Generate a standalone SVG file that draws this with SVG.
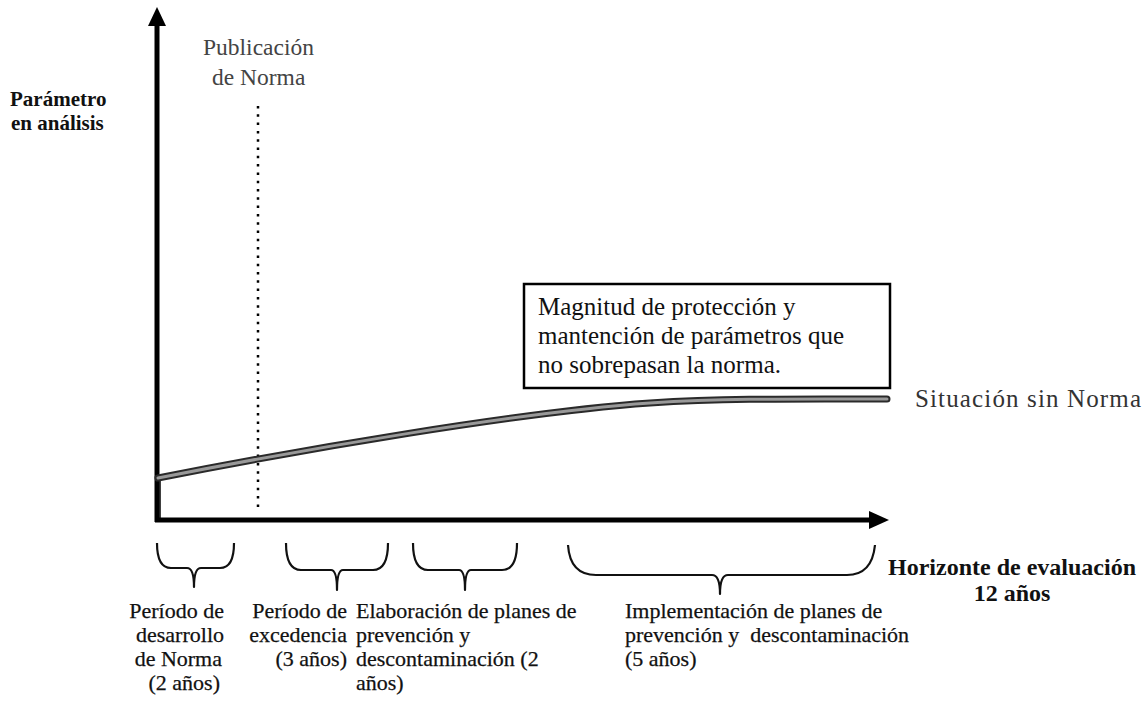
<svg xmlns="http://www.w3.org/2000/svg" width="1146" height="704" viewBox="0 0 1146 704">
<style>
text{font-family:"Liberation Serif","Times New Roman",serif;fill:#111}
.b{font-weight:bold}
.lbl{font-size:22px;stroke:#111;stroke-width:0.25}
.brace{fill:none;stroke:#111;stroke-width:2.2;stroke-linejoin:round}
</style>
<rect width="1146" height="704" fill="#fff"/>
<g id="axis-labels">
<text class="b" x="10" y="106" font-size="21">Parámetro</text>
<text class="b" x="11" y="130" font-size="21">en análisis</text>
</g>
<g id="publicacion">
<text x="203" y="55" font-size="23.5" style="fill:#444">Publicación</text>
<text x="212" y="85" font-size="23.5" style="fill:#444">de Norma</text>
</g>
<g id="connectors">
<line x1="157" y1="522" x2="157" y2="22" stroke="#000" stroke-width="5"/>
<polygon points="157,7 148,26 166,26" fill="#000"/>
<line x1="155" y1="520" x2="871" y2="520" stroke="#000" stroke-width="5"/>
<polygon points="889,520 869,511 869,529" fill="#000"/>
<line x1="258" y1="106" x2="258" y2="512" stroke="#000" stroke-width="2.5" stroke-dasharray="2.5 5.8"/>
<line x1="160" y1="478" x2="160" y2="518" stroke="#000" stroke-width="1.5"/>
</g>
<g id="curve">
<path d="M158,478 C300,450 520,412 650,403 C730,398 800,399 887,399" fill="none" stroke="#2a2a2a" stroke-width="7" stroke-linecap="round"/>
<path d="M158,478 C300,450 520,412 650,403 C730,398 800,399 887,399" fill="none" stroke="#999" stroke-width="3" stroke-linecap="round"/>
</g>
<g id="magnitud-box">
<rect x="524" y="284" width="366" height="104" fill="#fff" stroke="#000" stroke-width="2.5"/>
<text x="538" y="315" font-size="25">Magnitud de protección y</text>
<text x="538" y="344" font-size="25">mantención de parámetros que</text>
<text x="538" y="373" font-size="25">no sobrepasan la norma.</text>
</g>
<g id="situacion">
<text x="915" y="407" font-size="25" textLength="226" style="fill:#333">Situación sin Norma</text>
</g>
<g id="brace-1">
<path class="brace" d="M157,543 Q157,568 171,568 L187,568 Q194,568 194,587 Q194,568 201,568 L220,568 Q234,568 234,543"/>
<text class="lbl" x="224" y="618" text-anchor="end">Período de</text>
<text class="lbl" x="224" y="642" text-anchor="end">desarrollo</text>
<text class="lbl" x="222" y="666" text-anchor="end">de Norma</text>
<text class="lbl" x="220" y="690" text-anchor="end">(2 años)</text>
</g>
<g id="brace-2">
<path class="brace" d="M286,543 Q286,570 301,570 L331,570 Q337,570 337,590 Q337,570 343,570 L373,570 Q388,570 388,543"/>
<text class="lbl" x="347" y="618" text-anchor="end">Período de</text>
<text class="lbl" x="347" y="642" text-anchor="end">excedencia</text>
<text class="lbl" x="347" y="666" text-anchor="end">(3 años)</text>
</g>
<g id="brace-3">
<path class="brace" d="M413,543 Q413,570 428,570 L459,570 Q465,570 465,590 Q465,570 471,570 L502,570 Q517,570 517,543"/>
<text class="lbl" x="356" y="618">Elaboración de planes de</text>
<text class="lbl" x="356" y="642">prevención y</text>
<text class="lbl" x="356" y="666">descontaminación (2</text>
<text class="lbl" x="356" y="690">años)</text>
</g>
<g id="brace-4">
<path class="brace" d="M568,545 Q570,575 596,575 L712,575 Q720,575 720,594 Q720,575 728,575 L847,575 Q872,575 875,545"/>
<text class="lbl" x="625" y="618">Implementación de planes de</text>
<text class="lbl" x="625" y="642" xml:space="preserve">prevención y  descontaminación</text>
<text class="lbl" x="625" y="666">(5 años)</text>
</g>
<g id="horizonte">
<text class="b" x="1012" y="575" font-size="24" text-anchor="middle">Horizonte de evaluación</text>
<text class="b" x="1012" y="601" font-size="24" text-anchor="middle">12 años</text>
</g>
</svg>
